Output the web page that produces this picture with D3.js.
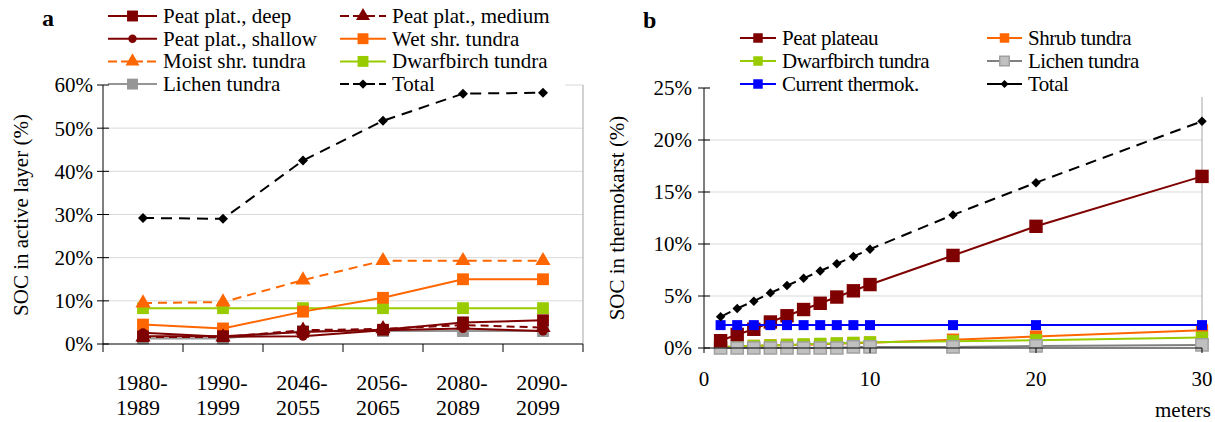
<!doctype html>
<html>
<head>
<meta charset="utf-8">
<title>SOC in active layer and thermokarst</title>
<script src="https://d3js.org/d3.v7.min.js"></script>
<style>
  body { margin: 0; background: #fff; }
</style>
</head>
<body>
<svg id="chart" width="1215" height="422"></svg>
<script>
// ---- data, panel a ----
var periods = ["1980-1989", "1990-1999", "2046-2055", "2056-2065", "2080-2089", "2090-2099"];
var peatDeep    = [1.8, 1.8, 2.8, 3.3, 5.0, 5.5];
var peatMedium  = [1.6, 1.6, 3.2, 3.5, 4.4, 3.8];
var peatShallow = [2.6, 1.7, 1.8, 3.2, 3.6, 3.0];
var wetShrub    = [4.5, 3.6, 7.5, 10.7, 15.0, 15.0];
var moistShrub  = [9.5, 9.7, 14.8, 19.3, 19.3, 19.3];
var dwarfA      = [8.3, 8.3, 8.3, 8.3, 8.3, 8.3];
var lichenA     = [1.3, 1.3, 3.0, 3.0, 3.0, 3.0];
var totalA      = [29.2, 29.0, 42.5, 51.7, 58.0, 58.2];
var yTicksA = [0, 10, 20, 30, 40, 50, 60];

// ---- data, panel b ----
var meters      = [1, 2, 3, 4, 5, 6, 7, 8, 9, 10, 15, 20, 30];
var peatPlateau = [0.7, 1.3, 1.8, 2.5, 3.1, 3.7, 4.3, 4.9, 5.5, 6.1, 8.9, 11.7, 16.5];
var shrubB      = [0.1, 0.15, 0.2, 0.25, 0.3, 0.3, 0.35, 0.4, 0.45, 0.5, 0.8, 1.1, 1.7];
var dwarfB      = [0.1, 0.15, 0.2, 0.25, 0.3, 0.35, 0.4, 0.45, 0.5, 0.55, 0.65, 0.75, 1.0];
var lichenB     = [0, 0, 0, 0, 0, 0, 0, 0, 0.1, 0.1, 0.1, 0.2, 0.3];
var currentTk   = [2.2, 2.2, 2.2, 2.2, 2.2, 2.2, 2.2, 2.2, 2.2, 2.2, 2.2, 2.2, 2.2];
var totalB      = [3.0, 3.8, 4.5, 5.3, 6.0, 6.7, 7.4, 8.1, 8.8, 9.5, 12.8, 15.9, 21.8];
var yTicksB = [0, 5, 10, 15, 20, 25];
var xTicksB = [0, 10, 20, 30];

var FONT = "'Liberation Serif', 'Times New Roman', 'DejaVu Serif', serif";
var svg = d3.select("#chart").attr("font-family", FONT);
var grid = "#d9d9d9", axisCol = "#000", border = "#a6a6a6";
var red = "#7f0000", orange = "#ff6600", green = "#99cc00", grey = "#969696", blue = "#0000ff";

function txt(g, x, y, s, size) {
    return g.append("text").attr("x", x).attr("y", y).attr("font-family", FONT)
        .attr("font-size", size).attr("fill", "#000").text(s);
}

var symSize = { square: 140, triangle: 100, circle: 65, diamond: 50 };
function marker(g, shape, x, y, col, stroke, sz) {
    var t = shape == "triangle" ? d3.symbolTriangle : shape == "circle" ? d3.symbolCircle : d3.symbolSquare;
    g.append("path")
        .attr("d", d3.symbol().type(t).size(sz || symSize[shape])())
        .attr("transform", "translate(" + x + "," + y + ")" + (shape == "diamond" ? " rotate(45)" : ""))
        .attr("fill", col)
        .attr("stroke", stroke || "none")
        .attr("stroke-width", stroke ? 1.5 : 0);
}

// ================= panel a =================
var xa = d3.scaleBand().domain(periods).range([103, 583]);
var ya = d3.scaleLinear().domain([0, 60]).range([344, 85]);
var ga = svg.append("g");

ga.selectAll(".grid").data(yTicksA.slice(1)).enter().append("line")
    .attr("x1", 103).attr("x2", 583).attr("y1", d => ya(d)).attr("y2", d => ya(d))
    .attr("stroke", grid);
ga.append("line").attr("x1", 583).attr("x2", 583).attr("y1", ya(60)).attr("y2", ya(0)).attr("stroke", border);
// legend box background hides part of the top gridline
ga.append("rect").attr("x", 103).attr("y", 0).attr("width", 462).attr("height", 88).attr("fill", "#fff");

var seriesA = [
    { name: "Peat plat., deep", v: peatDeep, col: red, shape: "square", dash: null, w: 2 },
    { name: "Peat plat., medium", v: peatMedium, col: red, shape: "triangle", dash: "8,5", w: 2 },
    { name: "Peat plat., shallow", v: peatShallow, col: red, shape: "circle", dash: null, w: 2 },
    { name: "Wet shr. tundra", v: wetShrub, col: orange, shape: "square", dash: null, w: 2 },
    { name: "Moist shr. tundra", v: moistShrub, col: orange, shape: "triangle", dash: "9,6", w: 2 },
    { name: "Dwarfbirch tundra", v: dwarfA, col: green, shape: "square", dash: null, w: 2 },
    { name: "Lichen tundra", v: lichenA, col: grey, shape: "square", dash: null, w: 2 },
    { name: "Total", v: totalA, col: "#000", shape: "diamond", dash: "11,7", w: 2 }
];
var lineA = d3.line().x((d, i) => xa(periods[i]) + xa.bandwidth() / 2).y(d => ya(d));
[6, 5, 4, 3, 2, 1, 0, 7].forEach(function (k) {
    var s = seriesA[k];
    ga.append("path").attr("d", lineA(s.v)).attr("fill", "none")
        .attr("stroke", s.col).attr("stroke-width", s.w).attr("stroke-dasharray", s.dash);
    s.v.forEach(function (d, i) {
        marker(ga, s.shape, xa(periods[i]) + xa.bandwidth() / 2, ya(d), s.col);
    });
});

// legend a
seriesA.forEach(function (s, i) {
    var col = i % 2, row = Math.floor(i / 2);
    var x0 = col == 0 ? 108 : 340, x1 = col == 0 ? 157 : 386, y = 16 + row * 22.7;
    ga.append("line").attr("x1", x0).attr("x2", x1).attr("y1", y).attr("y2", y)
        .attr("stroke", s.col).attr("stroke-width", 2).attr("stroke-dasharray", s.dash ? "9,4" : null);
    marker(ga, s.shape, (x0 + x1) / 2, y, s.col, null, symSize[s.shape] * 0.85);
    txt(ga, x1 + 6, y, s.name, 21).attr("dy", "0.33em");
});

// axes a
ga.append("line").attr("x1", 103).attr("x2", 103).attr("y1", ya(60)).attr("y2", ya(0)).attr("stroke", axisCol);
ga.append("line").attr("x1", 103).attr("x2", 583).attr("y1", ya(0)).attr("y2", ya(0)).attr("stroke", axisCol);
yTicksA.forEach(function (t) {
    ga.append("line").attr("x1", 97).attr("x2", 109).attr("y1", ya(t)).attr("y2", ya(t)).attr("stroke", axisCol);
    txt(ga, 93, ya(t), t + "%", 21).attr("dy", "0.35em").attr("text-anchor", "end");
});
d3.range(periods.length + 1).forEach(function (i) {
    var x = 103 + i * xa.bandwidth();
    ga.append("line").attr("x1", x).attr("x2", x).attr("y1", ya(0)).attr("y2", ya(0) + 8).attr("stroke", axisCol);
});
periods.forEach(function (p) {
    var parts = p.split("-");
    var cx = xa(p) + xa.bandwidth() / 2;
    txt(ga, cx - 1, 390, parts[0] + "-", 22).attr("text-anchor", "middle");
    txt(ga, cx - 5, 415, parts[1], 22).attr("text-anchor", "middle");
});
txt(ga, 0, 0, "SOC in active layer (%)", 21).attr("transform", "translate(28,215) rotate(-90)")
    .attr("text-anchor", "middle");
txt(ga, 42, 26, "a", 24).attr("font-weight", "bold");

// ================= panel b =================
var xb = d3.scaleLinear().domain([0, 30]).range([704, 1202]);
var yb = d3.scaleLinear().domain([0, 25]).range([348, 88]);
var gb = svg.append("g");

gb.selectAll(".grid").data(yTicksB.slice(1)).enter().append("line")
    .attr("x1", 704).attr("x2", 1202).attr("y1", d => yb(d)).attr("y2", d => yb(d))
    .attr("stroke", grid);
gb.append("line").attr("x1", 1202).attr("x2", 1202).attr("y1", yb(25)).attr("y2", yb(0)).attr("stroke", border);
gb.append("rect").attr("x", 710).attr("y", 0).attr("width", 505).attr("height", 97).attr("fill", "#fff");

var seriesB = [
    { name: "Peat plateau", v: peatPlateau, col: red, fill: red, stroke: null, shape: "square", sz: 180, dash: null },
    { name: "Shrub tundra", v: shrubB, col: orange, fill: orange, stroke: null, shape: "square", sz: 150, dash: null },
    { name: "Dwarfbirch tundra", v: dwarfB, col: green, fill: green, stroke: null, shape: "square", sz: 150, dash: null },
    { name: "Lichen tundra", v: lichenB, col: "#808080", fill: "#c0c0c0", stroke: "#a0a0a0", shape: "square", sz: 150, dash: null },
    { name: "Current thermok.", v: currentTk, col: blue, fill: blue, stroke: null, shape: "square", sz: 100, dash: null },
    { name: "Total", v: totalB, col: "#000", fill: "#000", stroke: null, shape: "diamond", sz: 45, dash: "11,7" }
];
var lineB = d3.line().x((d, i) => xb(meters[i])).y(d => yb(d));
[1, 2, 3, 0, 4, 5].forEach(function (k) {
    var s = seriesB[k];
    gb.append("path").attr("d", lineB(s.v)).attr("fill", "none")
        .attr("stroke", s.col).attr("stroke-width", 2).attr("stroke-dasharray", s.dash);
    s.v.forEach(function (d, i) {
        marker(gb, s.shape, xb(meters[i]), yb(d), s.fill, s.stroke, s.sz);
    });
});

// legend b
seriesB.forEach(function (s, i) {
    var col = i % 2, row = Math.floor(i / 2);
    var x0 = col == 0 ? 740 : 987, x1 = col == 0 ? 776 : 1022, y = 38 + row * 23;
    gb.append("line").attr("x1", x0).attr("x2", x1).attr("y1", y).attr("y2", y)
        .attr("stroke", s.col).attr("stroke-width", 2);
    marker(gb, s.shape, (x0 + x1) / 2, y, s.fill, s.stroke, s.shape == "diamond" ? 32 : 90);
    txt(gb, x1 + 6, y, s.name, 21).attr("dy", "0.33em").attr("letter-spacing", "-0.5");
});

// axes b
gb.append("line").attr("x1", 704).attr("x2", 704).attr("y1", yb(25)).attr("y2", yb(0)).attr("stroke", axisCol);
gb.append("line").attr("x1", 704).attr("x2", 1202).attr("y1", yb(0)).attr("y2", yb(0)).attr("stroke", axisCol);
yTicksB.forEach(function (t) {
    gb.append("line").attr("x1", 698).attr("x2", 710).attr("y1", yb(t)).attr("y2", yb(t)).attr("stroke", axisCol);
    txt(gb, 692, yb(t), t + "%", 21).attr("dy", "0.35em").attr("text-anchor", "end");
});
xTicksB.forEach(function (t) {
    gb.append("line").attr("x1", xb(t)).attr("x2", xb(t)).attr("y1", yb(0)).attr("y2", yb(0) + 5).attr("stroke", axisCol);
    txt(gb, xb(t), 386, t, 21).attr("text-anchor", "middle");
});
txt(gb, 1211, 417, "meters", 21).attr("text-anchor", "end");
txt(gb, 0, 0, "SOC in thermokarst (%)", 21).attr("transform", "translate(624,218) rotate(-90)")
    .attr("text-anchor", "middle");
txt(gb, 643, 28, "b", 24).attr("font-weight", "bold");
</script>
</body>
</html>
